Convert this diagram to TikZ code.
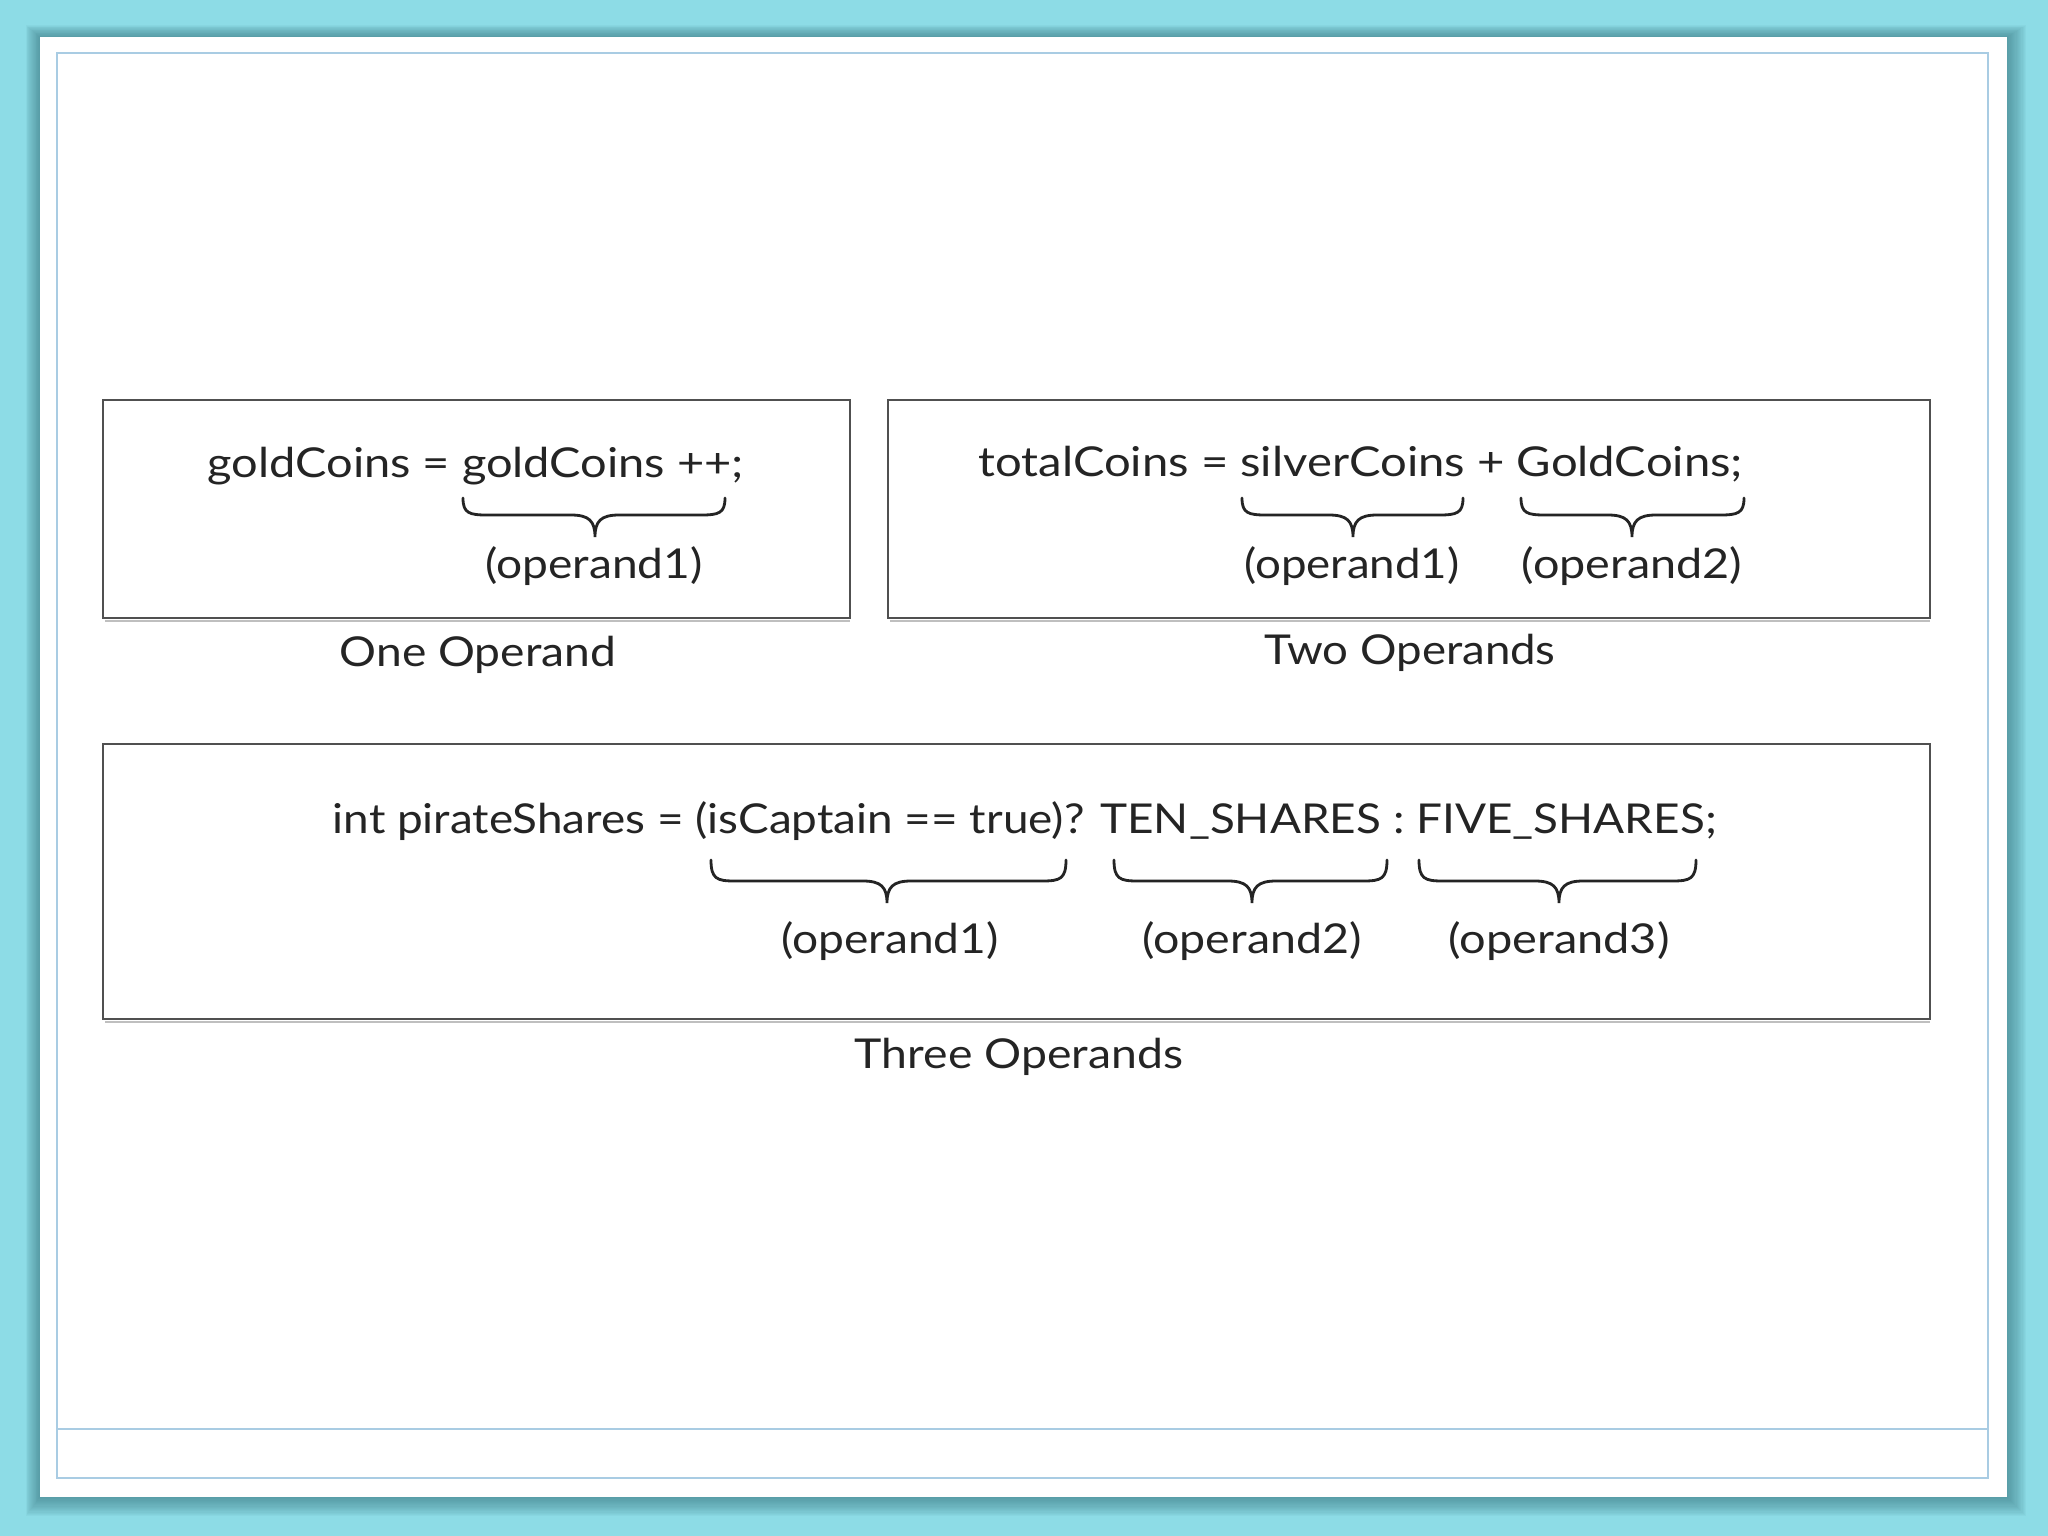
\documentclass[tikz,border=0pt]{standalone}
\usepackage{fontspec}
\setmainfont{Lato}
\usepackage{graphicx}
\definecolor{bgcyan}{HTML}{8DDCE6}
\definecolor{shadowc}{HTML}{3E7E88}
\definecolor{innerblue}{HTML}{A9CCE3}
\definecolor{boxgray}{HTML}{505050}
\definecolor{textgray}{HTML}{242424}
\newcommand{\obrace}[6]{%
  \draw[bracestyle] (#1,#4) .. controls (#1,{#5-2}) and ({#1+6},#5) .. ({#1+24},#5) -- ({#3-24},#5)
    .. controls ({#3-6},#5) and (#3,{#5+6}) .. (#3,#6) .. controls (#3,{#5+6}) and ({#3+6},#5) .. ({#3+24},#5)
    -- ({#2-24},#5) .. controls ({#2-6},#5) and (#2,{#5-2}) .. (#2,#4);}
\begin{document}
\begin{tikzpicture}[x=0.01cm,y=-0.01cm,
  boxline/.style={draw=boxgray,line width=0.8pt},
  boxshadow/.style={draw=black!25,line width=0.8pt},
  bracestyle/.style={draw=textgray,line width=0.8pt,line cap=round},
  codetext/.style={inner sep=0pt,anchor=base west,text=textgray,font=\fontsize{11.7}{13}\selectfont},
  labeltext/.style={inner sep=0pt,anchor=base,text=textgray,font=\fontsize{11.7}{13}\selectfont}]
\useasboundingbox (0,0) rectangle (2048,1536);
% background
\fill[bgcyan] (0,0) rectangle (2048,1536);
% soft shadow of the panel
\foreach \i in {1,...,16}{
  \fill[shadowc,opacity=0.055] ({40-\i*0.9},{37-\i*0.75}) rectangle ({2007+\i*1.2},{1497+\i*1.2});
}
% panel
\fill[white] (40,37) rectangle (2007,1497);
\draw[innerblue,line width=0.6pt] (57,53) rectangle (1988,1478);
\draw[innerblue,line width=0.6pt] (57,1429) -- (1988,1429);
% boxes
\draw[boxshadow] (105,621) -- (850,621);
\draw[boxshadow] (890,621) -- (1930,621);
\draw[boxshadow] (105,1022) -- (1930,1022);
\draw[boxline] (103,400) rectangle (850,618);
\draw[boxline] (888,400) rectangle (1930,618);
\draw[boxline] (103,744) rectangle (1930,1019);
% box 1
\node[codetext] (l1) at (207,477) {\resizebox{5.36cm}{\height}{goldCoins = goldCoins ++;}};
\obrace{463}{725}{595}{498}{515}{537}
\node[labeltext] (a1) at (594,578) {\resizebox{2.17cm}{\height}{(operand1)}};
\node[labeltext] (c1) at (478,666) {\resizebox{2.76cm}{\height}{One Operand}};
% box 2
\node[codetext] (l2) at (978,476) {\resizebox{7.64cm}{\height}{totalCoins = silverCoins + GoldCoins;}};
\obrace{1242}{1463}{1353}{498}{515}{537}
\obrace{1521}{1744}{1632}{498}{515}{537}
\node[labeltext] (b1) at (1352,578) {\resizebox{2.15cm}{\height}{(operand1)}};
\node[labeltext] (b2) at (1632,578) {\resizebox{2.20cm}{\height}{(operand2)}};
\node[labeltext] (c2) at (1410,664) {\resizebox{2.91cm}{\height}{Two Operands}};
% box 3
\node[codetext] (l3) at (332,833) {\resizebox{13.83cm}{\height}{int pirateShares = (isCaptain == true)? TEN\_SHARES : FIVE\_SHARES;}};
\obrace{711}{1066}{887}{860}{881}{903}
\obrace{1114}{1387}{1252}{860}{881}{903}
\obrace{1419}{1696}{1559}{860}{881}{903}
\node[labeltext] (d1) at (890,953) {\resizebox{2.17cm}{\height}{(operand1)}};
\node[labeltext] (d2) at (1252,953) {\resizebox{2.19cm}{\height}{(operand2)}};
\node[labeltext] (d3) at (1559,953) {\resizebox{2.21cm}{\height}{(operand3)}};
\node[labeltext] (c3) at (1019,1068) {\resizebox{3.28cm}{\height}{Three Operands}};
\end{tikzpicture}
\end{document}
